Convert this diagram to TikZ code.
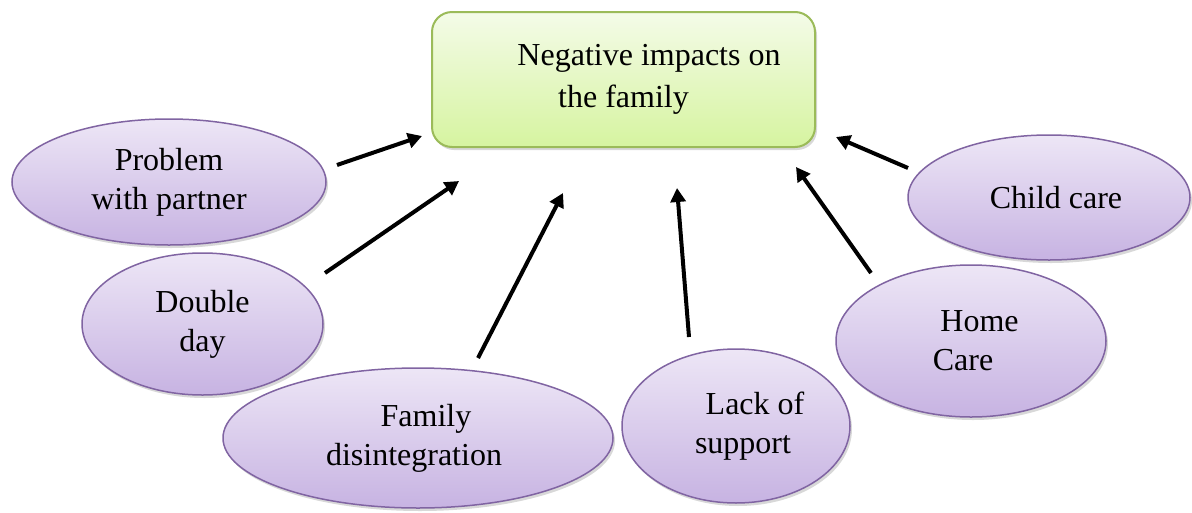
\documentclass[tikz,border=0pt]{standalone}
\usepackage{fontspec}
\setmainfont{Liberation Serif}
\usetikzlibrary{arrows.meta,shapes.geometric,shadows}
\definecolor{elltop}{HTML}{EDE6F6}
\definecolor{ellbot}{HTML}{C7B3E2}
\definecolor{elledge}{HTML}{8064A2}
\definecolor{boxtop}{HTML}{F4FBE8}
\definecolor{boxbot}{HTML}{D6F4A0}
\definecolor{boxedge}{HTML}{9BBB59}
\tikzset{
  bubble/.style={ellipse, draw=elledge, line width=1.5pt, top color=elltop, bottom color=ellbot,
    inner sep=0pt, align=center, font=\fontsize{32}{39}\selectfont,
    drop shadow={shadow xshift=2pt, shadow yshift=-3pt, opacity=0.25, fill=black!60}},
  mainbox/.style={rectangle, rounded corners=20pt, draw=boxedge, line width=2pt, top color=boxtop, bottom color=boxbot,
    inner sep=0pt, align=center, font=\fontsize{32}{42}\selectfont, minimum width=383pt, minimum height=135pt,
    drop shadow={shadow xshift=2pt, shadow yshift=-3pt, opacity=0.25, fill=black!60}},
  arr/.style={line width=4pt, -{Triangle[length=14pt,width=15pt]}}
}
\begin{document}
\begin{tikzpicture}[x=1pt,y=-1pt]
\useasboundingbox[fill=white] (0,0) rectangle (1192,512);
\node[mainbox] (main) at (623.5,79.5) {\hspace*{51pt}Negative impacts on\\the family};
\node[bubble, minimum width=314pt, minimum height=126pt] (partner) at (169,182) {Problem\\with partner};
\node[bubble, minimum width=241pt, minimum height=142pt] (double) at (202.5,324) {Double\\day};
\node[bubble, minimum width=390pt, minimum height=140pt] (family) at (418,438) {\hspace*{16pt}Family\\disintegration\hspace*{8pt}};
\node[bubble, minimum width=228pt, minimum height=154pt] (lack) at (736,426) {\hspace*{38pt}Lack of\\\hspace*{14pt}support};
\node[bubble, minimum width=270pt, minimum height=152pt] (home) at (971,341) {\hspace*{17pt}Home\\Care\hspace*{16pt}};
\node[bubble, minimum width=282pt, minimum height=125pt] (child) at (1049,197.5) {\hspace*{14pt}Child care};
\coordinate (t1) at (337,165); \coordinate (h1) at (422,136);
\coordinate (t2) at (325,273); \coordinate (h2) at (459,181);
\coordinate (t3) at (478,358); \coordinate (h3) at (563,193);
\coordinate (t4) at (689,337); \coordinate (h4) at (677,188);
\coordinate (t5) at (871,273); \coordinate (h5) at (796,167);
\coordinate (t6) at (908,168); \coordinate (h6) at (836,137);
\draw[arr] (t1) -- (h1);
\draw[arr] (t2) -- (h2);
\draw[arr] (t3) -- (h3);
\draw[arr] (t4) -- (h4);
\draw[arr] (t5) -- (h5);
\draw[arr] (t6) -- (h6);
\end{tikzpicture}
\end{document}
